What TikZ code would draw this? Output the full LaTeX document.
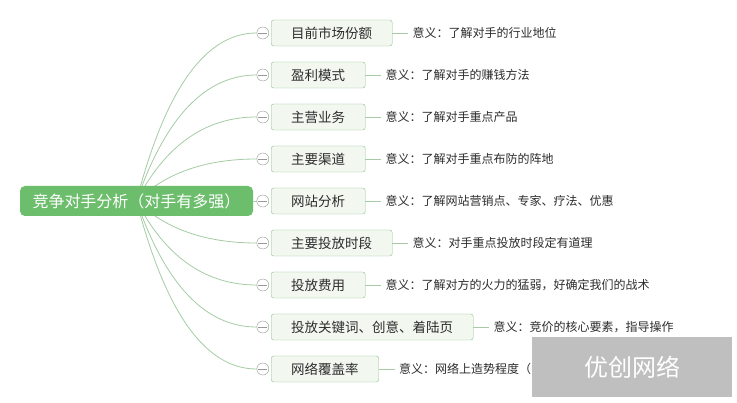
\documentclass[tikz,border=0pt]{standalone}
\usepackage{fontspec}
\setmainfont{Noto Sans CJK SC}
\usepackage{tikz}
\usetikzlibrary{positioning,calc,backgrounds}
\definecolor{rootgreen}{RGB}{108,189,108}
\definecolor{boxgreen}{RGB}{140,196,140}
\definecolor{boxfill}{RGB}{242,247,240}
\definecolor{linegreen}{RGB}{165,204,165}
\definecolor{textgray}{RGB}{45,45,45}
\definecolor{stampgray}{RGB}{191,191,191}

\begin{document}
\begin{tikzpicture}[
    x=1pt, y=-1pt,
    node distance=42pt and 16pt,
    root/.style={rectangle,rounded corners=5pt,fill=rootgreen,text=white,font=\fontsize{16}{19}\selectfont,minimum width=233pt,minimum height=30pt,inner sep=0pt},
    topic/.style={rectangle,draw=boxgreen,rounded corners=2.5pt,fill=boxfill,text=textgray,font=\fontsize{13.5}{16}\selectfont,minimum height=26pt,inner xsep=20pt,inner ysep=0pt},
    fold/.style={circle,draw=gray!80,fill=white,minimum size=12pt,inner sep=0pt,
        path picture={\draw[gray!80] ([xshift=-4.5pt]path picture bounding box.center) -- ([xshift=4.5pt]path picture bounding box.center);}},
    note/.style={text=textgray,font=\fontsize{12}{14}\selectfont,inner xsep=4pt,inner ysep=0pt},
    link/.style={draw=linegreen,line width=0.8pt},
    branch/.style={link,to path={.. controls ($(\tikztostart)!2/3!(hub |- \tikztotarget)$) and ($(\tikztotarget)!2/3!(hub |- \tikztotarget)$) .. (\tikztotarget)}},
    stamp/.style={rectangle,fill=stampgray,text=white,font=\fontsize{24}{28}\selectfont,minimum width=200pt,minimum height=60pt}
]
\useasboundingbox (0,0) rectangle (737,403);
\node[root] (root) at (136.5,201) {竞争对手分析（对手有多强）};
\coordinate (hub) at (180,201);

\node[topic, anchor=west] (b1) at (271,33) {目前市场份额};
\node[topic, below=of b1.west, anchor=west] (b2) {盈利模式};
\node[topic, below=of b2.west, anchor=west] (b3) {主营业务};
\node[topic, below=of b3.west, anchor=west] (b4) {主要渠道};
\node[topic, below=of b4.west, anchor=west] (b5) {网站分析};
\node[topic, below=of b5.west, anchor=west] (b6) {主要投放时段};
\node[topic, below=of b6.west, anchor=west] (b7) {投放费用};
\node[topic, below=of b7.west, anchor=west] (b8) {投放关键词、创意、着陆页};
\node[topic, below=of b8.west, anchor=west] (b9) {网络覆盖率};

\node[fold, left=2pt of b1] (f1) {};
\node[fold, left=2pt of b2] (f2) {};
\node[fold, left=2pt of b3] (f3) {};
\node[fold, left=2pt of b4] (f4) {};
\node[fold, left=2pt of b5] (f5) {};
\node[fold, left=2pt of b6] (f6) {};
\node[fold, left=2pt of b7] (f7) {};
\node[fold, left=2pt of b8] (f8) {};
\node[fold, left=2pt of b9] (f9) {};

\node[note, right=of b1] (n1) {意义：了解对手的行业地位};
\node[note, right=of b2] (n2) {意义：了解对手的赚钱方法};
\node[note, right=of b3] (n3) {意义：了解对手重点产品};
\node[note, right=of b4] (n4) {意义：了解对手重点布防的阵地};
\node[note, right=of b5] (n5) {意义：了解网站营销点、专家、疗法、优惠};
\node[note, right=of b6] (n6) {意义：对手重点投放时段定有道理};
\node[note, right=of b7] (n7) {意义：了解对方的火力的猛弱，好确定我们的战术};
\node[note, right=of b8] (n8) {意义：竞价的核心要素，指导操作};
\node[note, right=of b9] (n9) {意义：网络上造势程度（};

\draw[link] (b1) -- (n1);
\draw[link] (b2) -- (n2);
\draw[link] (b3) -- (n3);
\draw[link] (b4) -- (n4);
\draw[link] (b5) -- (n5);
\draw[link] (b6) -- (n6);
\draw[link] (b7) -- (n7);
\draw[link] (b8) -- (n8);
\draw[link] (b9) -- (n9);

\begin{scope}[on background layer]
\fill[white] (0,0) rectangle (737,403);
\draw[branch] (root.center) to (f1.west);
\draw[branch] (root.center) to (f2.west);
\draw[branch] (root.center) to (f3.west);
\draw[branch] (root.center) to (f4.west);
\draw[branch] (root.center) to (f5.west);
\draw[branch] (root.center) to (f6.west);
\draw[branch] (root.center) to (f7.west);
\draw[branch] (root.center) to (f8.west);
\draw[branch] (root.center) to (f9.west);
\end{scope}

\node[stamp] (logo) at (632,367) {优创网络};
\end{tikzpicture}
\end{document}
